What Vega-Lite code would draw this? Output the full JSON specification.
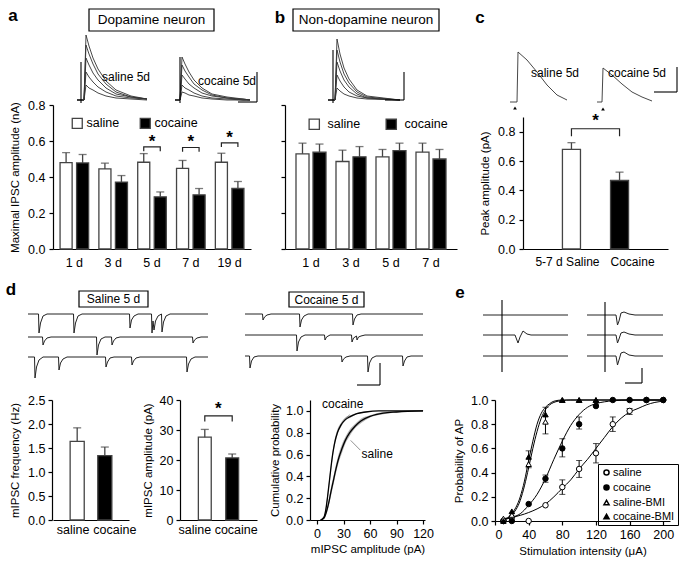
{
"$schema":"https://vega.github.io/schema/vega-lite/v6.json",
"width":680,"height":563,"autosize":{"type":"none"},"padding":0,"background":"white",
"config":{"font":"Liberation Sans","view":{"stroke":null},
"axis":{"domainColor":"black","tickColor":"black","labelColor":"black","titleColor":"black","labelFontSize":12.5,"titleFontSize":11.5,"titleFontWeight":"normal","grid":false,"tickSize":4,"domainWidth":1.2,"tickWidth":1.2,"labelPadding":3},
"legend":{"labelFontSize":12,"labelColor":"black"}},
"datasets":{
"traces":[
{"p":"A","id":"s1","t":[24,31,33,36,40,45,53,63,78,94],"v":[100,100,35,46,58,69,81,90,96,99]},
{"p":"A","id":"s2","t":[24,31,33,36,40,45,53,63,78,94],"v":[100,100,45,54,64,74,84,92,97,99]},
{"p":"A","id":"s3","t":[24,31,33,36,40,45,53,63,78,94],"v":[100,100,58,65,73,80,88,94,97,99]},
{"p":"A","id":"s4","t":[24,31,33,36,40,45,53,63,78,94],"v":[100,100,72,77,82,87,92,96,98,99]},
{"p":"A","id":"s5","t":[24,31,33,36,40,45,53,63,78,94],"v":[100,100,85,88,90,93,96,98,99,100]},
{"p":"A","id":"c1","t":[122,127,129,132,136,141,149,159,174,190,197],"v":[100,100,57,64,72,80,88,94,97,99,100]},
{"p":"A","id":"c2","t":[122,127,129,132,136,141,149,159,174,190,197],"v":[100,100,65,71,77,84,90,95,98,99,100]},
{"p":"A","id":"c3","t":[122,127,129,132,136,141,149,159,174,190,197],"v":[100,100,75,79,84,88,93,96,98,100,100]},
{"p":"A","id":"c4","t":[122,127,129,132,136,141,149,159,174,190,197],"v":[100,100,85,88,90,93,96,98,99,100,100]},
{"p":"A","id":"c5","t":[122,127,129,132,136,141,149,159,174,190,197],"v":[100,100,92,93,95,96,98,99,100,100,100]},
{"p":"B","id":"b1","t":[43,50,52,55,59,64,72,82,115],"v":[100,100,39,54,68,79,90,96,100]},
{"p":"B","id":"b2","t":[43,50,52,55,59,64,72,82,115],"v":[100,100,50,62,74,83,92,97,100]},
{"p":"B","id":"b3","t":[43,50,52,55,59,64,72,82,115],"v":[100,100,62,71,80,87,94,98,100]},
{"p":"B","id":"b4","t":[43,50,52,55,59,64,72,82,115],"v":[100,100,75,81,87,92,96,98,100]},
{"p":"B","id":"b5","t":[43,50,52,55,59,64,72,82,115],"v":[100,100,88,91,94,96,98,99,100]},
{"p":"C","id":"cs","t":[-13,-6,-5,4,14,24,34,44],"v":[102,102,52,60,72,85,95,100]},
{"p":"C","id":"cc","t":[74,79,80,89,99,109,119,129],"v":[102,102,68,75,84,92,97,101]},
{"p":"D","id":"ds1","t":[-25,-14.5,-14,-12.5,-10,-6,20.5,21,22.5,25,29,76.5,77,78.5,81,85,98.5,99,100,101,102.5,105,108.5,109,110.5,113,117,155],"v":[65,65,84,74,67,65,65,84,74,67,65,65,79,71,67,65,65,84,72,81,72,67,65,83,73,67,65,65]},
{"p":"D","id":"ds2","t":[-25,-10.5,-10,-8.5,-6,-2,43.5,44,45.5,48,52,58.5,59,60.5,63,67,139.5,140,141.5,144,148,155],"v":[88,88,96,92,89,88,88,106,96,90,88,88,96,92,89,88,88,94,91,89,88,88]},
{"p":"D","id":"ds3","t":[-25,-18.5,-18,-16.5,-14,-10,5.5,6,7.5,10,14,52.5,53,54.5,57,61,78.5,79,80.5,83,87,133.5,134,135.5,138,142,155],"v":[108,108,129,118,111,108,108,121,114,110,108,108,118,113,109,108,108,116,112,109,108,108,123,115,110,108,108]},
{"p":"D","id":"dc1","t":[192,209.5,210,211.5,214,218,246.5,247,248.5,251,255,299.5,300,301.5,304,308,370],"v":[65,65,71,68,66,65,65,78,71,67,65,65,76,70,66,65,65]},
{"p":"D","id":"dc2","t":[192,243.5,244,245.5,248,252,271.5,272,273.5,277,298.5,299,300.5,303.5,304,305.5,308,312,370],"v":[86,86,102,93,88,86,86,91,88,86,86,93,89,87,91,88,87,86,86]},
{"p":"D","id":"dc3","t":[192,196.5,197,198.5,201,205,288.5,289,290.5,293,297,314.5,315,316.5,319,323,349.5,350,351.5,354,358,370],"v":[107,107,119,112,108,107,107,113,110,108,107,107,123,114,109,107,107,117,112,108,107,107]},
{"p":"D","id":"el1","t":[430,515],"v":[66,66]},
{"p":"D","id":"el2","t":[430,462,465,467,470,474,478,515],"v":[86,86,94,88,82,85,86,86]},
{"p":"D","id":"el3","t":[430,515],"v":[107,107]},
{"p":"D","id":"er1","t":[534,563,564.5,566,568,571,576,582,610],"v":[66,66,76,72,64,63,65,66,66]},
{"p":"D","id":"er2","t":[534,563,564.5,566,568,571,576,582,610],"v":[86,86,94,90,84,83,85,86,86]},
{"p":"D","id":"er3","t":[534,563,564.5,566,568,571,576,582,610],"v":[107,107,116,111,104,103,106,107,107]}
],
"segs":[
{"p":"A","t":28,"t2":28,"v":62,"v2":103},{"p":"A","t":127,"t2":127,"v":57,"v2":103},
{"p":"A","t":204,"t2":204,"v":72,"v2":102},{"p":"A","t":185,"t2":204,"v":102,"v2":102},
{"p":"B","t":48,"t2":48,"v":50,"v2":103},{"p":"B","t":119,"t2":119,"v":72,"v2":100},{"p":"B","t":100,"t2":119,"v":100,"v2":100},
{"p":"C","t":154,"t2":154,"v":67,"v2":92},{"p":"C","t":131,"t2":154,"v":92,"v2":92},
{"p":"D","t":327,"t2":327,"v":114,"v2":136},{"p":"D","t":304,"t2":327,"v":136,"v2":136},
{"p":"D","t":449,"t2":449,"v":51,"v2":123},{"p":"D","t":552,"t2":552,"v":53,"v2":123},
{"p":"D","t":589,"t2":589,"v":119,"v2":134},{"p":"D","t":572,"t2":589,"v":134,"v2":134}
],
"boxes":[
{"p":"A","t":36,"t2":161,"v":9,"v2":31},{"p":"B","t":8,"t2":154,"v":9,"v2":31},
{"p":"D","t":26,"t2":95,"v":42,"v2":58},{"p":"D","t":236,"t2":311,"v":43,"v2":58}
],
"notes":[
{"p":"A","k":"letter","t":-40,"v":16,"txt":"a"},
{"p":"A","k":"title","t":98.5,"v":20,"txt":"Dopamine neuron"},
{"p":"A","k":"label","t":73,"v":77,"txt":"saline 5d"},
{"p":"A","k":"label","t":174,"v":81,"txt":"cocaine 5d"},
{"p":"B","k":"letter","t":-5,"v":18,"txt":"b"},
{"p":"B","k":"title","t":81,"v":20,"txt":"Non-dopamine neuron"},
{"p":"C","k":"letter","t":-43,"v":18,"txt":"c"},
{"p":"C","k":"label","t":32,"v":73,"txt":"saline 5d"},
{"p":"C","k":"label","t":114,"v":73,"txt":"cocaine 5d"},
{"p":"C","k":"arrow","t":-8,"v":108,"txt":""},
{"p":"C","k":"arrow","t":80,"v":109,"txt":""},
{"p":"D","k":"letter","t":-42,"v":41,"txt":"d"},
{"p":"D","k":"letter","t":407,"v":44,"txt":"e"},
{"p":"D","k":"title2","t":60.5,"v":50,"txt":"Saline 5 d"},
{"p":"D","k":"title2","t":273.5,"v":50.5,"txt":"Cocaine 5 d"}
],
"aBars":[
{"day":"1 d","group":"saline","mean":0.48,"hi":0.535},{"day":"1 d","group":"cocaine","mean":0.478,"hi":0.525},
{"day":"3 d","group":"saline","mean":0.445,"hi":0.477},{"day":"3 d","group":"cocaine","mean":0.372,"hi":0.408},
{"day":"5 d","group":"saline","mean":0.482,"hi":0.53},{"day":"5 d","group":"cocaine","mean":0.29,"hi":0.317},
{"day":"7 d","group":"saline","mean":0.448,"hi":0.492},{"day":"7 d","group":"cocaine","mean":0.301,"hi":0.336},
{"day":"19 d","group":"saline","mean":0.482,"hi":0.532},{"day":"19 d","group":"cocaine","mean":0.336,"hi":0.375}
],
"aBr":[
{"day":"5 d","group":"saline","yv":0.543,"ord":1},{"day":"5 d","group":"saline","yv":0.567,"ord":2},{"day":"5 d","group":"cocaine","yv":0.567,"ord":3},{"day":"5 d","group":"cocaine","yv":0.543,"ord":4},
{"day":"7 d","group":"saline","yv":0.54,"ord":1},{"day":"7 d","group":"saline","yv":0.564,"ord":2},{"day":"7 d","group":"cocaine","yv":0.564,"ord":3},{"day":"7 d","group":"cocaine","yv":0.54,"ord":4},
{"day":"19 d","group":"saline","yv":0.567,"ord":1},{"day":"19 d","group":"saline","yv":0.59,"ord":2},{"day":"19 d","group":"cocaine","yv":0.59,"ord":3},{"day":"19 d","group":"cocaine","yv":0.567,"ord":4}
],
"aStar":[{"day":"5 d","yv":0.595},{"day":"7 d","yv":0.592},{"day":"19 d","yv":0.618}],
"bBars":[
{"day":"1 d","group":"saline","mean":0.529,"hi":0.588},{"day":"1 d","group":"cocaine","mean":0.538,"hi":0.583},
{"day":"3 d","group":"saline","mean":0.486,"hi":0.549},{"day":"3 d","group":"cocaine","mean":0.512,"hi":0.569},
{"day":"5 d","group":"saline","mean":0.512,"hi":0.553},{"day":"5 d","group":"cocaine","mean":0.547,"hi":0.588},
{"day":"7 d","group":"saline","mean":0.538,"hi":0.588},{"day":"7 d","group":"cocaine","mean":0.5,"hi":0.553}
],
"cBars":[{"grp":"5-7 d Saline","mean":0.679,"hi":0.725},{"grp":"Cocaine","mean":0.467,"hi":0.524}],
"cBr":[{"grp":"5-7 d Saline","yv":0.768,"ord":1},{"grp":"5-7 d Saline","yv":0.82,"ord":2},{"grp":"Cocaine","yv":0.82,"ord":3},{"grp":"Cocaine","yv":0.768,"ord":4}],
"cStar":[{"grp":"5-7 d Saline","yv":0.87}],
"d1":[{"grp":"saline","mean":1.64,"hi":1.92},{"grp":"cocaine","mean":1.34,"hi":1.52}],
"d2":[{"grp":"saline","mean":27.6,"hi":30.2},{"grp":"cocaine","mean":20.7,"hi":22.0}],
"d2Br":[{"grp":"saline","yv":32.8,"ord":1},{"grp":"saline","yv":34.7,"ord":2},{"grp":"cocaine","yv":34.7,"ord":3},{"grp":"cocaine","yv":32.8,"ord":4}],
"d2Star":[{"grp":"saline","yv":37}],
"cum":[
{"series":"cocaine","amp":[4,8,10,12,14,16,18,20,23,27,32,38,45,55,70,120],"p":[0,0.03,0.1,0.22,0.36,0.5,0.62,0.71,0.8,0.87,0.92,0.95,0.975,0.99,1,1],"lo":[0,0.02,0.08,0.19,0.33,0.47,0.59,0.68,0.78,0.85,0.91,0.94,0.97,0.985,1,1],"hi":[0,0.04,0.12,0.25,0.39,0.53,0.65,0.74,0.83,0.89,0.94,0.96,0.98,0.995,1,1]},
{"series":"saline","amp":[4,8,10,13,16,19,22,25,28,32,37,43,50,60,75,90,120],"p":[0,0.02,0.06,0.15,0.27,0.38,0.49,0.58,0.65,0.73,0.8,0.86,0.91,0.95,0.98,0.99,1],"lo":[0,0.01,0.04,0.12,0.23,0.34,0.45,0.54,0.61,0.7,0.77,0.84,0.89,0.94,0.97,0.985,1],"hi":[0,0.03,0.08,0.18,0.31,0.42,0.53,0.62,0.69,0.76,0.83,0.88,0.93,0.96,0.99,0.995,1]}
],
"cumNotes":[{"amp":29,"p":1.06,"txt":"cocaine"},{"amp":68,"p":0.605,"txt":"saline"}],
"cumLeads":[{"amp":49,"amp2":38,"p":0.64,"p2":0.73},{"amp":37,"amp2":31,"p":0.965,"p2":0.92}],
"eFit":[
{"series":"saline","x":[10,20,40,50,60,70,80,90,100,110,120,130,140,150,160,170,180,190,200],"y":[0.02,0.03,0.07,0.1,0.14,0.2,0.27,0.34,0.43,0.51,0.6,0.69,0.78,0.85,0.9,0.93,0.96,0.98,0.99]},
{"series":"cocaine","x":[10,20,30,40,50,60,70,80,90,100,110,120,130,140,160,200],"y":[0.01,0.03,0.06,0.13,0.22,0.35,0.51,0.66,0.79,0.88,0.94,0.97,0.985,0.993,1,1]},
{"series":"saline-BMI","x":[10,20,30,35,40,45,50,55,60,65,70,80,90,200],"y":[0.01,0.05,0.17,0.29,0.44,0.6,0.74,0.85,0.92,0.96,0.98,0.995,1,1]},
{"series":"cocaine-BMI","x":[10,20,30,35,40,45,50,55,60,65,70,80,200],"y":[0.01,0.06,0.2,0.33,0.5,0.66,0.8,0.89,0.94,0.97,0.99,1,1]}
],
"ePts":[
{"series":"saline","x":[10,20,40,60,80,100,120,140,160,180,200],"y":[0,0.03,0,0.13,0.28,0.43,0.56,0.8,0.91,1,1]},
{"series":"cocaine","x":[10,20,40,60,80,100,120,140,160,180,200],"y":[0,0,0.14,0.35,0.6,0.8,0.95,1,1,1,1]},
{"series":"saline-BMI","x":[10,20,40,60,80,100,120],"y":[0.02,0.05,0.47,0.82,1,1,1]},
{"series":"cocaine-BMI","x":[10,20,40,60,80,100,120],"y":[0,0.08,0.53,0.88,1,1,1]}
],
"eErr":[
{"x":80,"lo":0.22,"hi":0.34},{"x":100,"lo":0.36,"hi":0.5},{"x":120,"lo":0.48,"hi":0.64},{"x":140,"lo":0.74,"hi":0.86},{"x":160,"lo":0.88,"hi":0.93},
{"x":60,"lo":0.32,"hi":0.38},{"x":80,"lo":0.53,"hi":0.68},{"x":100,"lo":0.76,"hi":0.86},
{"x":40,"lo":0.44,"hi":0.58},{"x":60,"lo":0.72,"hi":0.94}
]
},
"layer":[
{"layer":[
 {"data":{"name":"traces"},"transform":[{"filter":"datum.p == 'A'"},{"flatten":["t","v"]}],"mark":{"type":"line","color":"#333","strokeWidth":0.9},
  "encoding":{"x":{"field":"t","type":"quantitative","scale":{"domain":[0,198],"range":[53,251],"zero":false,"nice":false},"axis":null},
   "y":{"field":"v","type":"quantitative","scale":{"domain":[0,105],"range":[0,105],"zero":false,"nice":false},"axis":null},"detail":{"field":"id"}}},
 {"data":{"name":"segs"},"transform":[{"filter":"datum.p == 'A'"}],"mark":{"type":"rule","color":"black","strokeWidth":1.1},
  "encoding":{"x":{"field":"t","type":"quantitative"},"x2":{"field":"t2"},"y":{"field":"v","type":"quantitative"},"y2":{"field":"v2"}}},
 {"data":{"name":"boxes"},"transform":[{"filter":"datum.p == 'A'"}],"mark":{"type":"rect","fill":"white","stroke":"black","strokeWidth":1.2},
  "encoding":{"x":{"field":"t","type":"quantitative"},"x2":{"field":"t2"},"y":{"field":"v","type":"quantitative"},"y2":{"field":"v2"}}},
 {"data":{"name":"notes"},"transform":[{"filter":"datum.p == 'A' && datum.k == 'letter'"}],"mark":{"type":"text","fontSize":17,"fontWeight":"bold","color":"black"},
  "encoding":{"x":{"field":"t","type":"quantitative"},"y":{"field":"v","type":"quantitative"},"text":{"field":"txt"}}},
 {"data":{"name":"notes"},"transform":[{"filter":"datum.p == 'A' && datum.k == 'title'"}],"mark":{"type":"text","fontSize":13.5,"color":"black"},
  "encoding":{"x":{"field":"t","type":"quantitative"},"y":{"field":"v","type":"quantitative"},"text":{"field":"txt"}}},
 {"data":{"name":"notes"},"transform":[{"filter":"datum.p == 'A' && datum.k == 'label'"}],"mark":{"type":"text","fontSize":12,"color":"black"},
  "encoding":{"x":{"field":"t","type":"quantitative"},"y":{"field":"v","type":"quantitative"},"text":{"field":"txt"}}}
]},
{"layer":[
 {"data":{"name":"traces"},"transform":[{"filter":"datum.p == 'B'"},{"flatten":["t","v"]}],"mark":{"type":"line","color":"#333","strokeWidth":0.9},
  "encoding":{"x":{"field":"t","type":"quantitative","scale":{"domain":[0,172],"range":[285,457],"zero":false,"nice":false},"axis":null},
   "y":{"field":"v","type":"quantitative","scale":{"domain":[0,105],"range":[0,105],"zero":false,"nice":false},"axis":null},"detail":{"field":"id"}}},
 {"data":{"name":"segs"},"transform":[{"filter":"datum.p == 'B'"}],"mark":{"type":"rule","color":"black","strokeWidth":1.1},
  "encoding":{"x":{"field":"t","type":"quantitative"},"x2":{"field":"t2"},"y":{"field":"v","type":"quantitative"},"y2":{"field":"v2"}}},
 {"data":{"name":"boxes"},"transform":[{"filter":"datum.p == 'B'"}],"mark":{"type":"rect","fill":"white","stroke":"black","strokeWidth":1.2},
  "encoding":{"x":{"field":"t","type":"quantitative"},"x2":{"field":"t2"},"y":{"field":"v","type":"quantitative"},"y2":{"field":"v2"}}},
 {"data":{"name":"notes"},"transform":[{"filter":"datum.p == 'B' && datum.k == 'letter'"}],"mark":{"type":"text","fontSize":17,"fontWeight":"bold","color":"black"},
  "encoding":{"x":{"field":"t","type":"quantitative"},"y":{"field":"v","type":"quantitative"},"text":{"field":"txt"}}},
 {"data":{"name":"notes"},"transform":[{"filter":"datum.p == 'B' && datum.k == 'title'"}],"mark":{"type":"text","fontSize":13.5,"color":"black"},
  "encoding":{"x":{"field":"t","type":"quantitative"},"y":{"field":"v","type":"quantitative"},"text":{"field":"txt"}}}
]},
{"layer":[
 {"data":{"name":"traces"},"transform":[{"filter":"datum.p == 'C'"},{"flatten":["t","v"]}],"mark":{"type":"line","color":"#333","strokeWidth":0.9},
  "encoding":{"x":{"field":"t","type":"quantitative","scale":{"domain":[0,145],"range":[523,668],"zero":false,"nice":false},"axis":null},
   "y":{"field":"v","type":"quantitative","scale":{"domain":[0,117],"range":[0,117],"zero":false,"nice":false},"axis":null},"detail":{"field":"id"}}},
 {"data":{"name":"segs"},"transform":[{"filter":"datum.p == 'C'"}],"mark":{"type":"rule","color":"black","strokeWidth":1.1},
  "encoding":{"x":{"field":"t","type":"quantitative"},"x2":{"field":"t2"},"y":{"field":"v","type":"quantitative"},"y2":{"field":"v2"}}},
 {"data":{"name":"notes"},"transform":[{"filter":"datum.p == 'C' && datum.k == 'arrow'"}],"mark":{"type":"point","shape":"triangle-up","size":14,"filled":true,"color":"black","opacity":1},
  "encoding":{"x":{"field":"t","type":"quantitative"},"y":{"field":"v","type":"quantitative"}}},
 {"data":{"name":"notes"},"transform":[{"filter":"datum.p == 'C' && datum.k == 'letter'"}],"mark":{"type":"text","fontSize":17,"fontWeight":"bold","color":"black"},
  "encoding":{"x":{"field":"t","type":"quantitative"},"y":{"field":"v","type":"quantitative"},"text":{"field":"txt"}}},
 {"data":{"name":"notes"},"transform":[{"filter":"datum.p == 'C' && datum.k == 'label'"}],"mark":{"type":"text","fontSize":12,"color":"black"},
  "encoding":{"x":{"field":"t","type":"quantitative"},"y":{"field":"v","type":"quantitative"},"text":{"field":"txt"}}}
]},
{"layer":[
 {"data":{"name":"traces"},"transform":[{"filter":"datum.p == 'D'"},{"flatten":["t","v"]}],"mark":{"type":"line","color":"#222","strokeWidth":1},
  "encoding":{"x":{"field":"t","type":"quantitative","scale":{"domain":[0,618],"range":[53,671],"zero":false,"nice":false},"axis":null},
   "y":{"field":"v","type":"quantitative","scale":{"domain":[0,151],"range":[249,400],"zero":false,"nice":false},"axis":null},"detail":{"field":"id"}}},
 {"data":{"name":"segs"},"transform":[{"filter":"datum.p == 'D'"}],"mark":{"type":"rule","color":"black","strokeWidth":1.1},
  "encoding":{"x":{"field":"t","type":"quantitative"},"x2":{"field":"t2"},"y":{"field":"v","type":"quantitative"},"y2":{"field":"v2"}}},
 {"data":{"name":"boxes"},"transform":[{"filter":"datum.p == 'D'"}],"mark":{"type":"rect","fill":"white","stroke":"black","strokeWidth":1.2},
  "encoding":{"x":{"field":"t","type":"quantitative"},"x2":{"field":"t2"},"y":{"field":"v","type":"quantitative"},"y2":{"field":"v2"}}},
 {"data":{"name":"notes"},"transform":[{"filter":"datum.p == 'D' && datum.k == 'letter'"}],"mark":{"type":"text","fontSize":17,"fontWeight":"bold","color":"black"},
  "encoding":{"x":{"field":"t","type":"quantitative"},"y":{"field":"v","type":"quantitative"},"text":{"field":"txt"}}},
 {"data":{"name":"notes"},"transform":[{"filter":"datum.p == 'D' && datum.k == 'title2'"}],"mark":{"type":"text","fontSize":12,"color":"black"},
  "encoding":{"x":{"field":"t","type":"quantitative"},"y":{"field":"v","type":"quantitative"},"text":{"field":"txt"}}}
]},
{"layer":[
 {"data":{"name":"aBars"},"mark":{"type":"bar","stroke":"#444","strokeWidth":1.3},
  "encoding":{
   "x":{"field":"day","type":"nominal","scale":{"domain":["1 d","3 d","5 d","7 d","19 d"],"range":[53,251],"paddingInner":0,"paddingOuter":0.05},"axis":{"orient":"bottom","offset":-314,"title":null,"ticks":false,"labelAngle":0,"labelPadding":7,"labelFontSize":12.5}},
   "xOffset":{"field":"group","type":"nominal","scale":{"domain":["saline","cocaine"],"paddingInner":0.27,"paddingOuter":0.31}},
   "y":{"field":"mean","type":"quantitative","scale":{"domain":[0,0.8],"range":[249,105],"nice":false,"zero":false},"axis":{"orient":"left","offset":-53,"values":[0,0.2,0.4,0.6,0.8],"format":".1f","title":"Maximal IPSC amplitude (nA)","titlePadding":7,"labelPadding":4}},
   "fill":{"field":"group","type":"nominal","scale":{"domain":["saline","cocaine"],"range":["white","black"]},"legend":{"orient":"none","legendX":71,"legendY":117,"direction":"horizontal","title":null,"symbolType":"square","symbolSize":100,"symbolStrokeColor":"#444","symbolStrokeWidth":1.3,"labelFontSize":12.5,"labelOffset":3,"columnPadding":17}}}},
 {"data":{"name":"aBars"},"mark":{"type":"rule","color":"#444","strokeWidth":1.3},
  "encoding":{"x":{"field":"day","type":"nominal"},"xOffset":{"field":"group","type":"nominal"},"y":{"field":"hi","type":"quantitative"},"y2":{"field":"mean"}}},
 {"data":{"name":"aBars"},"mark":{"type":"tick","orient":"horizontal","size":8,"thickness":1.3,"color":"#444"},
  "encoding":{"x":{"field":"day","type":"nominal"},"xOffset":{"field":"group","type":"nominal"},"y":{"field":"hi","type":"quantitative"}}},
 {"data":{"name":"aBr"},"mark":{"type":"line","color":"#222","strokeWidth":1.2},
  "encoding":{"x":{"field":"day","type":"nominal"},"xOffset":{"field":"group","type":"nominal"},"y":{"field":"yv","type":"quantitative"},"detail":{"field":"day"},"order":{"field":"ord"}}},
 {"data":{"name":"aStar"},"mark":{"type":"text","fontSize":17,"fontWeight":"bold","color":"black","baseline":"middle"},
  "encoding":{"x":{"field":"day","type":"nominal"},"y":{"field":"yv","type":"quantitative"},"text":{"value":"*"}}}
]},
{"layer":[
 {"data":{"name":"bBars"},"mark":{"type":"bar","stroke":"#444","strokeWidth":1.3},
  "encoding":{
   "x":{"field":"day","type":"nominal","scale":{"domain":["1 d","3 d","5 d","7 d"],"range":[285,457],"paddingInner":0,"paddingOuter":0.15},"axis":{"orient":"bottom","offset":-314,"title":null,"ticks":false,"labelAngle":0,"labelPadding":7,"labelFontSize":12.5}},
   "xOffset":{"field":"group","type":"nominal","scale":{"domain":["saline","cocaine"],"paddingInner":0.235,"paddingOuter":0.294}},
   "y":{"field":"mean","type":"quantitative","scale":{"domain":[0,0.8],"range":[249,105],"nice":false,"zero":false},"axis":{"orient":"left","offset":-285,"values":[0,0.2,0.4,0.6,0.8],"labels":false,"title":null}},
   "fill":{"field":"group","type":"nominal","scale":{"domain":["saline","cocaine"],"range":["white","black"]},"legend":{"orient":"none","legendX":308,"legendY":118,"direction":"horizontal","title":null,"symbolType":"square","symbolSize":105,"symbolStrokeColor":"#444","symbolStrokeWidth":1.3,"labelFontSize":12.5,"labelOffset":7,"columnPadding":22}}}},
 {"data":{"name":"bBars"},"mark":{"type":"rule","color":"#444","strokeWidth":1.3},
  "encoding":{"x":{"field":"day","type":"nominal"},"xOffset":{"field":"group","type":"nominal"},"y":{"field":"hi","type":"quantitative"},"y2":{"field":"mean"}}},
 {"data":{"name":"bBars"},"mark":{"type":"tick","orient":"horizontal","size":8,"thickness":1.3,"color":"#444"},
  "encoding":{"x":{"field":"day","type":"nominal"},"xOffset":{"field":"group","type":"nominal"},"y":{"field":"hi","type":"quantitative"}}}
]},
{"layer":[
 {"data":{"name":"cBars"},"mark":{"type":"bar","stroke":"#444","strokeWidth":1.3},
  "encoding":{
   "x":{"field":"grp","type":"nominal","scale":{"domain":["5-7 d Saline","Cocaine"],"range":[523,668],"paddingInner":0.625,"paddingOuter":0.82},"axis":{"orient":"bottom","offset":-314,"title":null,"ticks":false,"labelAngle":0,"labelPadding":7,"labelFontSize":12,"labelOffset":{"condition":{"test":"datum.value == 'Cocaine'","value":13},"value":-4}}},
   "y":{"field":"mean","type":"quantitative","scale":{"domain":[0,0.9],"range":[249,117],"nice":false,"zero":false},"axis":{"orient":"left","offset":-523,"values":[0,0.2,0.4,0.6,0.8],"format":".1f","title":"Peak amplitude (pA)","titlePadding":7,"labelPadding":4}},
   "fill":{"field":"grp","type":"nominal","scale":{"domain":["5-7 d Saline","Cocaine"],"range":["white","black"]},"legend":null}}},
 {"data":{"name":"cBars"},"mark":{"type":"rule","color":"#444","strokeWidth":1.3},
  "encoding":{"x":{"field":"grp","type":"nominal"},"y":{"field":"hi","type":"quantitative"},"y2":{"field":"mean"}}},
 {"data":{"name":"cBars"},"mark":{"type":"tick","orient":"horizontal","size":8,"thickness":1.3,"color":"#444"},
  "encoding":{"x":{"field":"grp","type":"nominal"},"y":{"field":"hi","type":"quantitative"}}},
 {"data":{"name":"cBr"},"mark":{"type":"line","color":"#222","strokeWidth":1.2},
  "encoding":{"x":{"field":"grp","type":"nominal"},"y":{"field":"yv","type":"quantitative"},"order":{"field":"ord"}}},
 {"data":{"name":"cStar"},"mark":{"type":"text","fontSize":17,"fontWeight":"bold","color":"black","baseline":"middle","dx":24},
  "encoding":{"x":{"field":"grp","type":"nominal"},"y":{"field":"yv","type":"quantitative"},"text":{"value":"*"}}}
]},
{"layer":[
 {"data":{"name":"d1"},"mark":{"type":"bar","stroke":"#444","strokeWidth":1.3},
  "encoding":{
   "x":{"field":"grp","type":"nominal","scale":{"domain":["saline","cocaine"],"range":[53,129],"paddingInner":0.49,"paddingOuter":0.62},"axis":{"orient":"bottom","offset":-43,"title":null,"ticks":false,"labelAngle":0,"labelPadding":3,"labelOffset":{"condition":{"test":"datum.value == 'cocaine'","value":10},"value":-4}}},
   "y":{"field":"mean","type":"quantitative","scale":{"domain":[0,2.5],"range":[520,400],"nice":false,"zero":false},"axis":{"orient":"left","offset":-52,"values":[0,0.5,1,1.5,2,2.5],"format":".1f","title":"mIPSC frequency (Hz)","titlePadding":7}},
   "fill":{"field":"grp","type":"nominal","scale":{"domain":["saline","cocaine"],"range":["white","black"]},"legend":null}}},
 {"data":{"name":"d1"},"mark":{"type":"rule","color":"#444","strokeWidth":1.3},
  "encoding":{"x":{"field":"grp","type":"nominal"},"y":{"field":"hi","type":"quantitative"},"y2":{"field":"mean"}}},
 {"data":{"name":"d1"},"mark":{"type":"tick","orient":"horizontal","size":8,"thickness":1.3,"color":"#444"},
  "encoding":{"x":{"field":"grp","type":"nominal"},"y":{"field":"hi","type":"quantitative"}}}
]},
{"layer":[
 {"data":{"name":"d2"},"mark":{"type":"bar","stroke":"#444","strokeWidth":1.3},
  "encoding":{
   "x":{"field":"grp","type":"nominal","scale":{"domain":["saline","cocaine"],"range":[180,257],"paddingInner":0.53,"paddingOuter":0.67},"axis":{"orient":"bottom","offset":-43,"title":null,"ticks":false,"labelAngle":0,"labelPadding":3,"labelOffset":{"condition":{"test":"datum.value == 'cocaine'","value":4},"value":-10}}},
   "y":{"field":"mean","type":"quantitative","scale":{"domain":[0,40],"range":[520,400],"nice":false,"zero":false},"axis":{"orient":"left","offset":-180,"values":[0,10,20,30,40],"title":"mIPSC amplitude (pA)","titlePadding":6}},
   "fill":{"field":"grp","type":"nominal","scale":{"domain":["saline","cocaine"],"range":["white","black"]},"legend":null}}},
 {"data":{"name":"d2"},"mark":{"type":"rule","color":"#444","strokeWidth":1.3},
  "encoding":{"x":{"field":"grp","type":"nominal"},"y":{"field":"hi","type":"quantitative"},"y2":{"field":"mean"}}},
 {"data":{"name":"d2"},"mark":{"type":"tick","orient":"horizontal","size":8,"thickness":1.3,"color":"#444"},
  "encoding":{"x":{"field":"grp","type":"nominal"},"y":{"field":"hi","type":"quantitative"}}},
 {"data":{"name":"d2Br"},"mark":{"type":"line","color":"#222","strokeWidth":1.2},
  "encoding":{"x":{"field":"grp","type":"nominal"},"y":{"field":"yv","type":"quantitative"},"order":{"field":"ord"}}},
 {"data":{"name":"d2Star"},"mark":{"type":"text","fontSize":17,"fontWeight":"bold","color":"black","baseline":"middle","dx":13.5},
  "encoding":{"x":{"field":"grp","type":"nominal"},"y":{"field":"yv","type":"quantitative"},"text":{"value":"*"}}}
]},
{"layer":[
 {"data":{"name":"cum"},"transform":[{"flatten":["amp","p","lo","hi"]}],"mark":{"type":"area","color":"#a8a8a8","interpolate":"monotone","opacity":0.9},
  "encoding":{
   "x":{"field":"amp","type":"quantitative","scale":{"domain":[-8,122.2],"range":[310,425],"nice":false,"zero":false},"axis":{"orient":"bottom","offset":-43,"values":[0,30,60,90,120],"title":"mIPSC amplitude (pA)","titlePadding":4}},
   "y":{"field":"lo","type":"quantitative","scale":{"domain":[0,1.1],"range":[520,400],"nice":false,"zero":false},"axis":{"orient":"left","offset":-310,"values":[0,0.2,0.4,0.6,0.8,1],"format":".1f","title":"Cumulative probability","titlePadding":5}},
   "y2":{"field":"hi"},"detail":{"field":"series"}}},
 {"data":{"name":"cum"},"transform":[{"flatten":["amp","p","lo","hi"]}],"mark":{"type":"line","color":"black","strokeWidth":1.3,"interpolate":"monotone"},
  "encoding":{"x":{"field":"amp","type":"quantitative"},"y":{"field":"p","type":"quantitative"},"detail":{"field":"series"}}},
 {"data":{"name":"cumLeads"},"mark":{"type":"rule","color":"#777","strokeWidth":0.8},
  "encoding":{"x":{"field":"amp","type":"quantitative"},"x2":{"field":"amp2"},"y":{"field":"p","type":"quantitative"},"y2":{"field":"p2"}}},
 {"data":{"name":"cumNotes"},"mark":{"type":"text","fontSize":12,"color":"black"},
  "encoding":{"x":{"field":"amp","type":"quantitative"},"y":{"field":"p","type":"quantitative"},"text":{"field":"txt"}}}
]},
{"layer":[
 {"data":{"name":"eFit"},"transform":[{"flatten":["x","y"]}],"mark":{"type":"line","color":"black","strokeWidth":1,"interpolate":"monotone"},
  "encoding":{
   "x":{"field":"x","type":"quantitative","scale":{"domain":[0,208],"range":[495,670],"nice":false,"zero":false},"axis":{"orient":"bottom","offset":-42,"values":[0,40,80,120,160,200],"title":"Stimulation intensity (μA)","titlePadding":5}},
   "y":{"field":"y","type":"quantitative","scale":{"domain":[0,1],"range":[521,400],"nice":false,"zero":false},"axis":{"orient":"left","offset":-495,"values":[0,0.2,0.4,0.6,0.8,1],"format":".1f","title":"Probability of AP","titlePadding":6}},
   "detail":{"field":"series"}}},
 {"data":{"name":"eErr"},"mark":{"type":"rule","color":"black","strokeWidth":1},
  "encoding":{"x":{"field":"x","type":"quantitative"},"y":{"field":"lo","type":"quantitative"},"y2":{"field":"hi"}}},
 {"data":{"name":"eErr"},"mark":{"type":"tick","orient":"horizontal","size":6,"thickness":1,"color":"black"},
  "encoding":{"x":{"field":"x","type":"quantitative"},"y":{"field":"lo","type":"quantitative"}}},
 {"data":{"name":"eErr"},"mark":{"type":"tick","orient":"horizontal","size":6,"thickness":1,"color":"black"},
  "encoding":{"x":{"field":"x","type":"quantitative"},"y":{"field":"hi","type":"quantitative"}}},
 {"data":{"name":"ePts"},"transform":[{"flatten":["x","y"]}],"mark":{"type":"point","filled":true,"size":30,"stroke":"black","strokeWidth":1,"opacity":1},
  "encoding":{"x":{"field":"x","type":"quantitative"},"y":{"field":"y","type":"quantitative"},
   "shape":{"field":"series","type":"nominal","scale":{"domain":["saline","cocaine","saline-BMI","cocaine-BMI"],"range":["circle","circle","triangle-up","triangle-up"]},"legend":{"orient":"none","legendX":598,"legendY":464,"title":null,"strokeColor":"black","padding":3,"symbolSize":26,"labelFontSize":11,"labelOffset":1,"rowPadding":2,"encode":{"symbols":{"update":{"stroke":{"value":"black"},"strokeWidth":{"value":1}}}}}},
   "fill":{"field":"series","type":"nominal","scale":{"domain":["saline","cocaine","saline-BMI","cocaine-BMI"],"range":["white","black","white","black"]},"legend":{"orient":"none","legendX":598,"legendY":464,"title":null,"strokeColor":"black","padding":3,"symbolSize":26,"labelFontSize":11,"labelOffset":1,"rowPadding":2,"encode":{"symbols":{"update":{"stroke":{"value":"black"},"strokeWidth":{"value":1}}}}}}}}
]}
],
"resolve":{"scale":{"x":"independent","y":"independent","xOffset":"independent","fill":"independent","shape":"independent"},"axis":{"x":"independent","y":"independent"},"legend":{"fill":"independent","shape":"independent"}}
}
